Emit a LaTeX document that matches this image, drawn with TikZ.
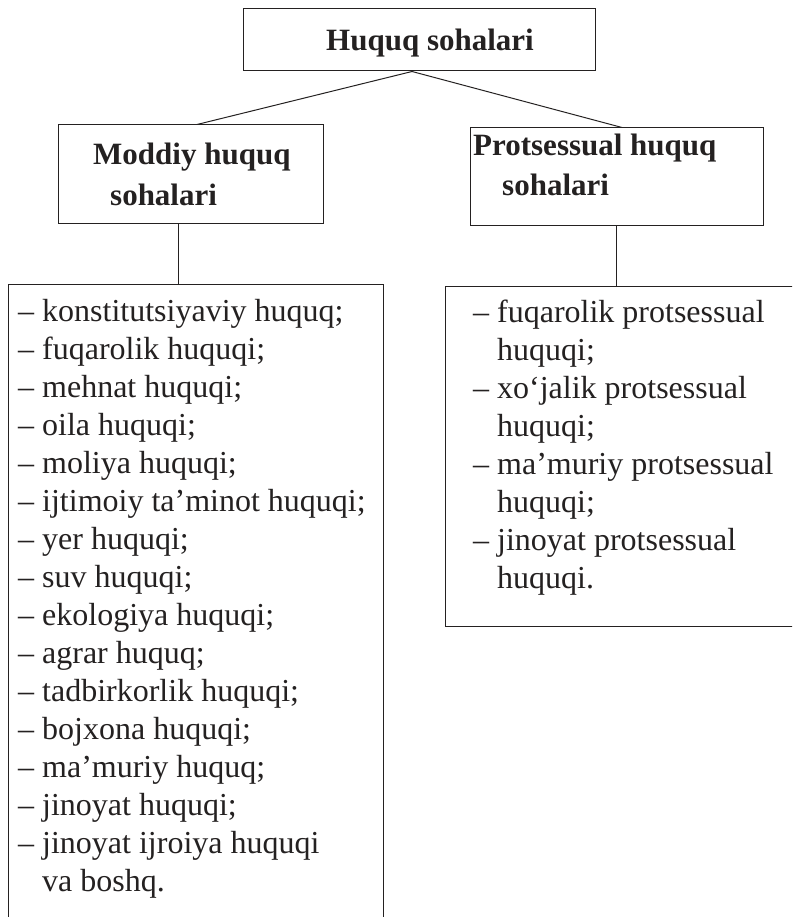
\documentclass[tikz,border=0pt]{standalone}
\usepackage{fontspec}
\setmainfont{Liberation Serif}
\usepackage{xcolor}
\definecolor{ink}{rgb}{0.14,0.13,0.13}
\usetikzlibrary{
	calc,
	positioning
}
\tikzset{
	frame/.style={draw=ink, line width=1pt, inner sep=0pt},
	link/.style={draw=ink, line width=1pt},
	head/.style={font=\fontsize{31}{38}\selectfont\bfseries, text=ink, anchor=base west, inner sep=0pt},
	entry/.style={font=\fontsize{32}{38}\selectfont, text=ink, anchor=base west, inner sep=0pt}
}
\newcommand\itemdash{\llap{–\ }}

\begin{document}
\begin{tikzpicture}[x=1pt, y=-1pt]

	% Page
		\useasboundingbox (0,0) rectangle (792,917);
		\clip (0,0) rectangle (792,917);

	% Boxes
		\node[frame, minimum width=352pt, minimum height=62pt] (root) at (419,40) {};
		\node[frame, minimum width=265pt, minimum height=99pt] (moddiy) at (190.5,174.5) {};
		\node[frame, minimum width=293pt, minimum height=98pt] (prots) at (616.5,177) {};
		% lists run past the page edge
		\node[frame, minimum width=375pt, minimum height=646pt] (mlist) at (195.5,607) {};
		\node[frame, minimum width=355pt, minimum height=340pt] (plist) at (622.5,456) {};

	% Headings
		\node[head] (roottext) at (326,51) {Huquq sohalari};
		\node[head] (moddiy1) at (93,165) {Moddiy huquq};
		\node[head] (moddiy2) at (110,206) {sohalari};
		\node[head] (prots1) at (473,156) {Protsessual huquq};
		\node[head] (prots2) at (502,196) {sohalari};

	% Connectors
		\draw[link] ([xshift=-7pt]root.south) -- ([xshift=6.5pt]moddiy.north);
		\draw[link] ([xshift=-7pt]root.south) -- ([xshift=5.5pt]prots.north);
		\draw[link] ([xshift=-12.5pt]moddiy.south) -- ([xshift=-12.5pt]moddiy.south |- mlist.north);
		\draw[link] (prots.south) -- (prots.south |- plist.north);

	% Lists
		\foreach \t [count=\i from 0] in {
			\itemdash konstitutsiyaviy huquq;,
			\itemdash fuqarolik huquqi;,
			\itemdash mehnat huquqi;,
			\itemdash oila huquqi;,
			\itemdash moliya huquqi;,
			\itemdash ijtimoiy ta’minot huquqi;,
			\itemdash yer huquqi;,
			\itemdash suv huquqi;,
			\itemdash ekologiya huquqi;,
			\itemdash agrar huquq;,
			\itemdash tadbirkorlik huquqi;,
			\itemdash bojxona huquqi;,
			\itemdash ma’muriy huquq;,
			\itemdash jinoyat huquqi;,
			\itemdash jinoyat ijroiya huquqi,
			va boshq.} {
			\node[entry] (mod-\i) at (42,{321+\i*38}) {\t};
		}
		\foreach \t [count=\i from 0] in {
			\itemdash fuqarolik protsessual,
			huquqi;,
			\itemdash xo‘jalik protsessual,
			huquqi;,
			\itemdash ma’muriy protsessual,
			huquqi;,
			\itemdash jinoyat protsessual,
			huquqi.} {
			\node[entry] (pro-\i) at (497,{322+\i*38}) {\t};
		}
\end{tikzpicture}
\end{document}
